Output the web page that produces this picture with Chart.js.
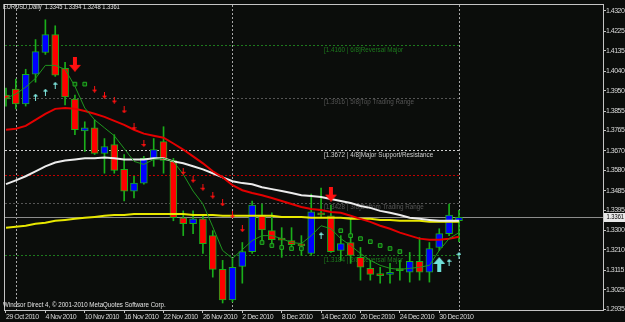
<!DOCTYPE html>
<html><head><meta charset="utf-8">
<script src="https://cdn.jsdelivr.net/npm/chart.js@4.4.1/dist/chart.umd.min.js"></script>
<style>html,body{margin:0;padding:0;background:#0b0d0b;overflow:hidden}#wrap{width:625px;height:322px}</style>
</head><body><div id="wrap"><canvas id="c" width="625" height="322"></canvas></div>
<script>
const SYMBOL = 'EURUSD,Daily';
const DATES = ['29 Oct 2010','1 Nov 2010','2 Nov 2010','3 Nov 2010','4 Nov 2010','5 Nov 2010','8 Nov 2010','9 Nov 2010','10 Nov 2010','11 Nov 2010','12 Nov 2010','15 Nov 2010','16 Nov 2010','17 Nov 2010','18 Nov 2010','19 Nov 2010','22 Nov 2010','23 Nov 2010','24 Nov 2010','25 Nov 2010','26 Nov 2010','29 Nov 2010','30 Nov 2010','1 Dec 2010','2 Dec 2010','3 Dec 2010','6 Dec 2010','7 Dec 2010','8 Dec 2010','9 Dec 2010','10 Dec 2010','13 Dec 2010','14 Dec 2010','15 Dec 2010','16 Dec 2010','17 Dec 2010','20 Dec 2010','21 Dec 2010','22 Dec 2010','23 Dec 2010','24 Dec 2010','27 Dec 2010','28 Dec 2010','29 Dec 2010','30 Dec 2010','31 Dec 2010','3 Jan 2011'];
const OPEN  = [1.3929,1.3957,1.3888,1.4026,1.4127,1.4210,1.4053,1.3911,1.3763,1.3777,1.3658,1.3699,1.3584,1.3483,1.3520,1.3635,1.3713,1.3625,1.3359,1.3331,1.3354,1.3276,1.3119,1.2977,1.3133,1.3202,1.3372,1.3299,1.3257,1.3253,1.3230,1.3193,1.3382,1.3368,1.3207,1.3244,1.3175,1.3124,1.3092,1.3096,1.3115,1.3106,1.3156,1.3106,1.3221,1.3285,1.3345];
const HIGH  = [1.3961,1.4003,1.4049,1.4187,1.4279,1.4251,1.4081,1.3929,1.3805,1.3814,1.3727,1.3745,1.3653,1.3552,1.3644,1.3727,1.3782,1.3635,1.3391,1.3391,1.3372,1.3299,1.3161,1.3170,1.3244,1.3437,1.3423,1.3382,1.3313,1.3313,1.3276,1.3469,1.3497,1.3418,1.3276,1.3359,1.3221,1.3161,1.3129,1.3147,1.3161,1.3198,1.3267,1.3244,1.3308,1.3423,1.3394];
const LOW   = [1.3878,1.3865,1.3878,1.3989,1.4118,1.4016,1.3883,1.3745,1.3667,1.3653,1.3566,1.3566,1.3437,1.3451,1.3515,1.3598,1.3566,1.3345,1.3276,1.3285,1.3193,1.3083,1.2963,1.2968,1.3055,1.3193,1.3239,1.3221,1.3175,1.3216,1.3184,1.3184,1.3359,1.3198,1.3161,1.3147,1.3069,1.3069,1.3055,1.3055,1.3069,1.3060,1.3069,1.3060,1.3207,1.3276,1.3248];
const CLOSE = [1.3911,1.3888,1.4026,1.4131,1.4210,1.4021,1.3920,1.3768,1.3777,1.3658,1.3690,1.3579,1.3483,1.3520,1.3635,1.3676,1.3625,1.3359,1.3331,1.3354,1.3239,1.3119,1.2977,1.3129,1.3202,1.3418,1.3303,1.3257,1.3255,1.3234,1.3228,1.3386,1.3372,1.3202,1.3239,1.3184,1.3129,1.3096,1.3090,1.3106,1.3113,1.3156,1.3106,1.3216,1.3285,1.3372,1.3361];
const MA_RED    = [1.3768,1.3773,1.3786,1.3814,1.3842,1.3865,1.3869,1.3865,1.3855,1.3842,1.3828,1.3809,1.3791,1.3768,1.3750,1.3740,1.3731,1.3704,1.3676,1.3644,1.3612,1.3575,1.3547,1.3510,1.3487,1.3474,1.3464,1.3451,1.3437,1.3423,1.3409,1.3400,1.3395,1.3386,1.3382,1.3368,1.3354,1.3340,1.3322,1.3308,1.3290,1.3276,1.3262,1.3257,1.3257,1.3262,1.3271];
const MA_WHITE  = [1.3515,1.3533,1.3552,1.3575,1.3598,1.3616,1.3625,1.3630,1.3635,1.3635,1.3639,1.3635,1.3630,1.3630,1.3630,1.3635,1.3635,1.3621,1.3612,1.3598,1.3584,1.3566,1.3547,1.3529,1.3520,1.3515,1.3501,1.3492,1.3483,1.3474,1.3464,1.3460,1.3455,1.3446,1.3437,1.3428,1.3414,1.3405,1.3391,1.3382,1.3372,1.3359,1.3354,1.3349,1.3345,1.3345,1.3345];
const MA_YELLOW = [1.3313,1.3317,1.3322,1.3331,1.3336,1.3345,1.3349,1.3354,1.3359,1.3363,1.3368,1.3372,1.3372,1.3377,1.3377,1.3377,1.3377,1.3377,1.3377,1.3372,1.3372,1.3372,1.3368,1.3368,1.3368,1.3368,1.3368,1.3368,1.3363,1.3363,1.3363,1.3359,1.3359,1.3359,1.3359,1.3354,1.3354,1.3354,1.3349,1.3349,1.3345,1.3345,1.3345,1.3340,1.3340,1.3340,1.3340];
const MA_GREEN  = [1.3915,1.3934,1.3966,1.4007,1.4067,1.4067,1.4049,1.3970,1.3869,1.3814,1.3777,1.3740,1.3681,1.3621,1.3607,1.3630,1.3635,1.3621,1.3561,1.3483,1.3423,1.3317,1.3207,1.3170,1.3211,1.3253,1.3276,1.3276,1.3262,1.3244,1.3239,1.3276,1.3322,1.3308,1.3262,1.3230,1.3193,1.3161,1.3138,1.3124,1.3119,1.3124,1.3129,1.3138,1.3207,1.3262,1.3290];
const UP_SMALL_IDX = [3,4,5,32,45,46];
const UP_SMALL_VAL = [1.3920,1.3943,1.3975,1.3276,1.3152,1.3184];
const UP_BIG_IDX = [44];
const UP_BIG_VAL = [1.3142];
const DN_SMALL_IDX = [9,10,11,12,13,14,18,19,20,21,22,23,24];
const DN_SMALL_VAL = [1.3957,1.3929,1.3906,1.3860,1.3782,1.3704,1.3575,1.3538,1.3501,1.3464,1.3428,1.3372,1.3308];
const DN_BIG_IDX = [7,33];
const DN_BIG_VAL = [1.4072,1.3469];
const DOT_IDX = [7,8,26,27,28,29,30,34,35,36,37,38,39,40];
const DOT_VAL = [1.3980,1.3980,1.3244,1.3230,1.3221,1.3216,1.3216,1.3299,1.3276,1.3262,1.3248,1.3230,1.3216,1.3202];
const MURREY_LEVELS = [1.4160,1.3916,1.3672,1.3428,1.3184];
const MURREY_TEXT = ['[1.4160 | 6/8]Reversal Major','[1.3916 | 5/8]Top Trading Range','[1.3672 | 4/8]Major Support/Resistance','[1.3428 | 3/8]Bottom Trading Range','[1.3184 | 2/8]Reversal Major'];
const RED_LEVEL = 1.3559;
const SEPARATOR_IDX = [1,23,46];
const Y_TICK_LABELS = ['1.4320','1.4225','1.4135','1.4040','1.3950','1.3855','1.3765','1.3670','1.3580','1.3485','1.3395','1.3300','1.3210','1.3115','1.3025','1.2935'];
const X_TICK_IDX = [0,4,8,12,16,20,24,28,32,36,40,44];
const COPYRIGHT = 'Windsor Direct 4, \u00a9 2001-2010 MetaQuotes Software Corp.';

const BG = '#0b0d0b';
const GREEN = '#1aae1a';
const FONT = "'Liberation Sans', Arial, sans-serif";
Chart.defaults.font.family = FONT;
Chart.defaults.font.size = 7;
Chart.defaults.color = '#d8d8d8';

function arrow(color, up, w, h, sw, hh){
  const c = document.createElement('canvas'); c.width = w; c.height = h;
  const g = c.getContext('2d'); g.fillStyle = color;
  g.beginPath();
  if (up) { g.moveTo(w/2,0); g.lineTo(w,hh); g.lineTo(0,hh); }
  else { g.moveTo(w/2,h); g.lineTo(w,h-hh); g.lineTo(0,h-hh); }
  g.closePath(); g.fill();
  const sx = Math.round((w-sw)/2);
  if (up) g.fillRect(sx,hh,sw,h-hh); else g.fillRect(sx,0,sw,h-hh);
  return c;
}
const upSmall = arrow('#7fe8e0', true, 5, 7, 1, 3);
const dnSmall = arrow('#ff1010', false, 5, 7, 1, 3);
const upBig = arrow('#70e0d8', true, 12, 15, 4, 7);
const dnBig = arrow('#ff1010', false, 12, 15, 4, 7);

const N = DATES.length;
const idx = DATES.map((d,i)=>i);
const pts = (arr) => arr.map((v,i)=>({x:i,y:v}));
const ptsIdx = (ix, vals) => ix.map((i,k)=>({x:i,y:vals[k]}));

function narrowText(ctx, text, x, y, sx){
  ctx.save();
  ctx.letterSpacing = '0px';
  ctx.translate(x, y);
  ctx.scale(sx, 1);
  ctx.fillText(text, 0, 0);
  ctx.restore();
}

const overlay = {
  id:'overlay',
  beforeDraw(chart){
    const ctx = chart.ctx;
    ctx.letterSpacing = '-0.5px';
    ctx.save(); ctx.fillStyle = BG; ctx.fillRect(0,0,chart.width,chart.height); ctx.restore();
  },
  beforeDatasetsDraw(chart){
    const {ctx, chartArea:a, scales:{x,y}} = chart;
    ctx.save();
    ctx.lineWidth = 1;
    ctx.setLineDash([2,2]);
    ctx.strokeStyle = '#a8a8a8';
    SEPARATOR_IDX.forEach(i=>{
      const px = Math.round(x.getPixelForValue(i)) + 0.5;
      ctx.beginPath(); ctx.moveTo(px,a.top); ctx.lineTo(px,a.bottom); ctx.stroke();
    });
    const xEnd = x.getPixelForValue(N-1);
    const mColors = ['#1d7a1d','#555555','#cfcfcf','#555555','#1d7a1d'];
    MURREY_LEVELS.forEach((lv,k)=>{
      const py = Math.round(y.getPixelForValue(lv)) + 0.5;
      ctx.strokeStyle = mColors[k];
      ctx.beginPath(); ctx.moveTo(a.left,py); ctx.lineTo(xEnd,py); ctx.stroke();
    });
    const ry = Math.round(y.getPixelForValue(RED_LEVEL)) + 0.5;
    ctx.strokeStyle = '#c00000';
    ctx.beginPath(); ctx.moveTo(a.left,ry); ctx.lineTo(xEnd,ry); ctx.stroke();
    ctx.setLineDash([]);
    const by = Math.round(y.getPixelForValue(CLOSE[N-1])) + 0.5;
    ctx.strokeStyle = '#8c8c8c';
    ctx.beginPath(); ctx.moveTo(a.left,by); ctx.lineTo(a.right,by); ctx.stroke();
    ctx.font = '7px ' + FONT;
    ctx.textBaseline = 'middle';
    const tx = x.getPixelForValue(32.3);
    MURREY_LEVELS.forEach((lv,k)=>{
      ctx.fillStyle = mColors[k];
      narrowText(ctx, MURREY_TEXT[k], tx, y.getPixelForValue(lv) + 4.5, 0.9);
    });
    ctx.restore();
  },
  afterDraw(chart){
    const {ctx, chartArea:a, scales:{y}} = chart;
    ctx.save();
    ctx.strokeStyle = '#c4c4c4'; ctx.lineWidth = 1;
    ctx.strokeRect(a.left-0.5, a.top-0.5, a.right-a.left+1, a.bottom-a.top+1);
    ctx.font = '7px ' + FONT;
    ctx.fillStyle = '#e4e4e4';
    ctx.textBaseline = 'middle';
    const last = N-1;
    narrowText(ctx, SYMBOL + '  ' + [OPEN[last],HIGH[last],LOW[last],CLOSE[last]].map(v=>v.toFixed(4)).join(' '), 3, 7, 0.82);
    narrowText(ctx, COPYRIGHT, 3, 305, 0.88);
    const by = Math.round(y.getPixelForValue(CLOSE[last]));
    ctx.fillStyle = '#e8e8e8';
    ctx.fillRect(a.right+1, by-4, 21, 9);
    ctx.fillStyle = '#000';
    narrowText(ctx, CLOSE[last].toFixed(4), a.right+3.5, by+0.5, 0.82);
    ctx.restore();
  }
};

new Chart(document.getElementById('c'), {
  type:'bar',
  data:{
    datasets:[
      { type:'bar', label:'wick', data: idx.map(i=>({x:i,y:[LOW[i],HIGH[i]]})), backgroundColor:GREEN, barThickness:1, grouped:false, order:10 },
      { type:'bar', label:'body', data: idx.map(i=>({x:i,y:[OPEN[i],CLOSE[i]]})),
        backgroundColor: idx.map(i=> CLOSE[i] > OPEN[i] ? '#0000ff' : '#ff0000'),
        borderColor:GREEN, borderWidth:1, borderSkipped:false, barThickness:7, minBarLength:2, grouped:false, order:9 },
      { type:'line', label:'MA yellow', data: pts(MA_YELLOW), borderColor:'#e8e800', borderWidth:2, pointRadius:0, tension:0, order:5 },
      { type:'line', label:'MA white', data: pts(MA_WHITE), borderColor:'#ececec', borderWidth:2, pointRadius:0, tension:0, order:4 },
      { type:'line', label:'MA red', data: pts(MA_RED), borderColor:'#e40000', borderWidth:2, pointRadius:0, tension:0, order:3 },
      { type:'line', label:'MA green', data: pts(MA_GREEN), borderColor:'#1f961f', borderWidth:1, pointRadius:0, tension:0, order:2 },
      { type:'scatter', label:'dots', data: ptsIdx(DOT_IDX,DOT_VAL), pointStyle:'rect', pointRadius:2.6, backgroundColor:'#0b3a0b', borderColor:'#22b022', borderWidth:1, order:1 },
      { type:'scatter', label:'up small', data: ptsIdx(UP_SMALL_IDX,UP_SMALL_VAL), pointStyle:upSmall, pointRadius:3, order:0 },
      { type:'scatter', label:'up big', data: ptsIdx(UP_BIG_IDX,UP_BIG_VAL), pointStyle:upBig, pointRadius:3, order:0 },
      { type:'scatter', label:'down small', data: ptsIdx(DN_SMALL_IDX,DN_SMALL_VAL), pointStyle:dnSmall, pointRadius:3, order:0 },
      { type:'scatter', label:'down big', data: ptsIdx(DN_BIG_IDX,DN_BIG_VAL), pointStyle:dnBig, pointRadius:3, order:0 }
    ]
  },
  options:{
    responsive:false, devicePixelRatio:1, animation:false, events:[],
    layout:{padding:{left:1, top:2, right:0, bottom:0}},
    plugins:{legend:{display:false}, tooltip:{enabled:false}},
    scales:{
      x:{ type:'linear', position:'bottom', offset:false, min:-0.1009, max:60.63,
          grid:{display:true, drawOnChartArea:false, drawTicks:true, tickLength:3, tickColor:'#c4c4c4', offset:false},
          border:{display:false},
          afterBuildTicks:(s)=>{ s.ticks = X_TICK_IDX.map(v=>({value:v})); },
          afterFit:(s)=>{ s.height = 12; },
          ticks:{ autoSkip:false, maxRotation:0, minRotation:0, align:'start', padding:0, color:'#d8d8d8',
                  callback:(v)=> DATES[v] } },
      y:{ type:'linear', position:'right', min:1.29304, max:1.434761, beginAtZero:false,
          grid:{display:true, drawOnChartArea:false, drawTicks:true, tickLength:3, tickColor:'#c4c4c4'},
          border:{display:false},
          afterBuildTicks:(s)=>{ s.ticks = Y_TICK_LABELS.map(t=>({value:parseFloat(t)})); },
          afterFit:(s)=>{ s.width = 22; },
          ticks:{ padding:0, color:'#d8d8d8', callback:(v,i)=> Y_TICK_LABELS[i] } }
    }
  },
  plugins:[overlay]
});
</script>
</body></html>
